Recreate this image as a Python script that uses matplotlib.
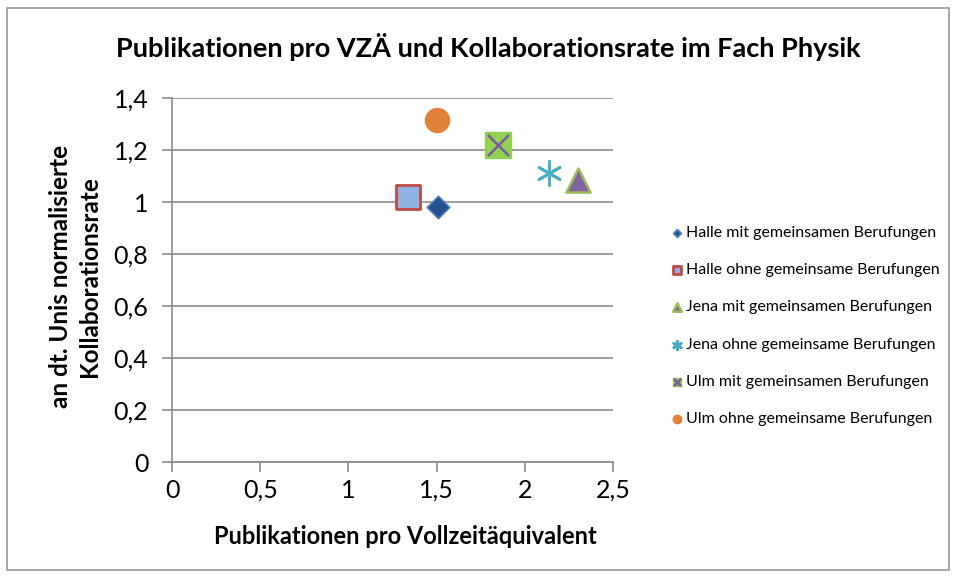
import matplotlib.pyplot as plt
from matplotlib.patches import Rectangle

plt.rcParams['font.family'] = ['Lato', 'DejaVu Sans']

# Data (x = publications per FTE, y = normalised collaboration rate)
labels = ['Halle mit gemeinsamen Berufungen',
          'Halle ohne gemeinsame Berufungen',
          'Jena mit gemeinsamen Berufungen',
          'Jena ohne gemeinsame Berufungen',
          'Ulm mit gemeinsamen Berufungen',
          'Ulm ohne gemeinsame Berufungen']
pub_x = [1.51, 1.34, 2.30, 2.14, 1.85, 1.50]
collab_y = [0.98, 1.02, 1.085, 1.11, 1.22, 1.315]

x_ticks = [0, 0.5, 1, 1.5, 2, 2.5]
y_ticks = [0, 0.2, 0.4, 0.6, 0.8, 1.0, 1.2, 1.4]

fig = plt.figure(figsize=(9.57, 5.78), dpi=100)
ax = fig.add_axes([172 / 957, 1 - 462 / 578, 441 / 957, 364 / 578])

# outer chart border
fig.patches.append(Rectangle((7 / 957, 8 / 578), 942 / 957, 562 / 578,
                             transform=fig.transFigure, fill=False,
                             edgecolor='#9a9a9a', linewidth=1.2))

handles = []
# Halle mit: dark blue diamond
h = ax.scatter(pub_x[0], collab_y[0], marker='D', s=130, color='#24508d',
               edgecolors='#4a7ebb', linewidths=1.2, zorder=3)
handles.append(h)
# Halle ohne: light blue square, red edge
h = ax.scatter(pub_x[1], collab_y[1], marker='s', s=280, color='#8fb4e3',
               edgecolors='#be4b48', linewidths=2, zorder=3)
handles.append(h)
# Jena mit: purple triangle, green edge
h = ax.scatter(pub_x[2], collab_y[2], marker='^', s=300, color='#8064a2',
               edgecolors='#9bbb59', linewidths=1.8, zorder=3)
handles.append(h)
# Jena ohne: teal star
h = ax.scatter(pub_x[3], collab_y[3], marker=(6, 2, 0), s=300,
               color='#4bacc6', linewidths=2, zorder=3)
handles.append(h)
# Ulm mit: green square with purple x
h1 = ax.scatter(pub_x[4], collab_y[4], marker='s', s=330, color='#92d050',
                edgecolors='#92d050', zorder=3)
h2 = ax.scatter(pub_x[4], collab_y[4], marker='x', s=230, color='#7a5aa0',
                linewidths=1.8, zorder=4)
handles.append((h1, h2))
# Ulm ohne: orange circle
h = ax.scatter(pub_x[5], collab_y[5], marker='o', s=300, color='#e0823a',
               zorder=3)
handles.append(h)

ax.set_xlim(0, 2.5)
ax.set_ylim(0, 1.4)
ax.set_xticks(x_ticks)
ax.set_xticklabels([f'{t:g}'.replace('.', ',') for t in x_ticks])
ax.set_yticks(y_ticks)
ax.set_yticklabels([f'{t:g}'.replace('.', ',') for t in y_ticks])
ax.tick_params(axis='both', labelsize=18, color='#8c8c8c', length=7,
               width=1.2, direction='out')
ax.tick_params(axis='x', pad=5)
ax.tick_params(axis='y', pad=10)

ax.grid(axis='y', color='#8c8c8c', linewidth=1.2)
ax.set_axisbelow(True)
for side in ['top', 'right']:
    ax.spines[side].set_visible(False)
for side in ['left', 'bottom']:
    ax.spines[side].set_color('#8c8c8c')
    ax.spines[side].set_linewidth(1.2)

ax.set_xlabel('Publikationen pro Vollzeitäquivalent', fontsize=17,
              fontweight='bold')
ax.xaxis.set_label_coords(0.53, -0.173)
ax.set_ylabel('an dt. Unis normalisierte\nKollaborationsrate', fontsize=17.5,
              fontweight='bold', linespacing=1.35)
ax.yaxis.set_label_coords(-0.16, 0.51)
fig.text(488 / 957, 1 - 47 / 578,
         'Publikationen pro VZÄ und Kollaborationsrate im Fach Physik',
         ha='center', va='center', fontsize=19.5, fontweight='bold')

fig.legend(handles, labels, loc='center left',
           bbox_to_anchor=(662 / 957, 1 - 326 / 578), frameon=False,
           fontsize=11.5, markerscale=0.35, handletextpad=0.1,
           handlelength=0.9, labelspacing=1.45, borderpad=0)

fig.savefig('out.png', dpi=100)
